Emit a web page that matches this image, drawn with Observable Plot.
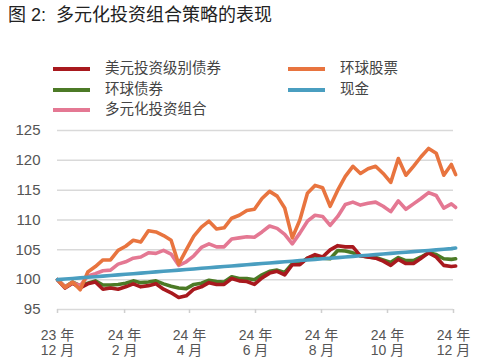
<!DOCTYPE html>
<html><head><meta charset="utf-8">
<script src="https://cdn.jsdelivr.net/npm/d3@7"></script>
<script src="https://cdn.jsdelivr.net/npm/@observablehq/plot@0.6"></script>
<style>
body{margin:0;background:#fff;font-family:"Liberation Sans","Noto Sans CJK SC",sans-serif;}
#wrap{position:relative;width:485px;height:361px;overflow:hidden}
#chart{position:absolute;left:0;top:0}
#title{position:absolute;left:8px;top:4px;font-size:18px;color:#222;white-space:pre;line-height:22px}
.leg{position:absolute;font-size:14.5px;color:#444;line-height:16px;white-space:nowrap}
.sw{position:absolute;height:4px;width:37px}
</style></head><body>
<div id="wrap"><div id="chart"></div><div id="title">图 2:  多元化投资组合策略的表现</div><div id="legend"></div></div>
<script>
const titleText = "图 2:  多元化投资组合策略的表现";
const seriesNames = ["美元投资级别债券", "环球股票", "环球债券", "现金", "多元化投资组合"];
const seriesColors = ["#a8191e", "#e8743f", "#4c7a26", "#4a9ec0", "#e47893"];
const drawOrder = ["环球债券", "美元投资级别债券", "多元化投资组合", "环球股票", "现金"];

const dates = ["2023-12-01","2023-12-08","2023-12-15","2023-12-22","2023-12-29",
"2024-01-05","2024-01-12","2024-01-19","2024-01-26",
"2024-02-02","2024-02-09","2024-02-16","2024-02-23",
"2024-03-01","2024-03-08","2024-03-15","2024-03-22","2024-03-29",
"2024-04-05","2024-04-12","2024-04-19","2024-04-26",
"2024-05-03","2024-05-10","2024-05-17","2024-05-24","2024-05-31",
"2024-06-07","2024-06-14","2024-06-21","2024-06-28",
"2024-07-05","2024-07-12","2024-07-19","2024-07-26",
"2024-08-02","2024-08-09","2024-08-16","2024-08-23","2024-08-30",
"2024-09-06","2024-09-13","2024-09-20","2024-09-27",
"2024-10-04","2024-10-11","2024-10-18","2024-10-25",
"2024-11-01","2024-11-08","2024-11-15","2024-11-22","2024-11-29","2024-12-03"];

const usdIG = [100,98.6,99.4,98.6,99.3,99.6,98.4,98.6,98.4,98.8,99.3,98.8,99.0,99.3,98.4,97.8,97.0,97.3,98.4,98.8,99.5,99.2,99.2,100.2,99.8,99.7,99.2,100.3,101.1,101.4,100.8,102.5,102.5,103.6,104.2,103.8,105.0,105.7,105.5,105.5,104.0,103.8,103.6,103.1,102.4,103.4,102.7,102.7,103.6,104.5,103.8,102.4,102.2,102.3];
const globalEq = [100,98.7,99.6,98.3,101.3,102.2,103.3,103.3,104.9,105.6,106.6,106.3,108.2,108.0,107.4,106.6,102.6,105.0,107.3,108.8,109.8,108.5,108.7,110.3,110.8,111.6,111.8,113.6,114.8,114.0,112.0,107.0,110.0,114.5,115.8,115.4,112.3,115.0,117.3,119.0,117.8,118.6,119.0,117.8,116.3,120.3,117.5,119.0,120.6,122.0,121.2,117.5,119.3,117.6];
const globalBond = [100,98.8,99.6,99.0,99.4,99.8,99.1,99.1,99.2,99.4,99.8,99.5,99.6,99.8,99.3,98.9,98.6,98.5,99.2,99.4,99.9,99.7,99.6,100.5,100.2,100.2,100.0,100.8,101.4,101.6,101.2,102.7,102.7,103.6,104.0,103.6,103.5,104.9,104.8,104.5,104.0,103.8,103.7,103.3,102.9,103.7,103.2,103.2,103.8,104.5,104.2,103.5,103.4,103.5];
const cash = [100.0,100.1,100.2,100.3,100.4,100.5,100.6,100.7,100.8,100.9,101.0,101.1,101.2,101.3,101.4,101.5,101.6,101.7,101.8,101.9,102.0,102.1,102.2,102.3,102.4,102.5,102.6,102.7,102.8,102.9,103.0,103.1,103.2,103.3,103.4,103.5,103.6,103.7,103.8,103.9,104.0,104.1,104.2,104.3,104.4,104.5,104.6,104.7,104.8,104.9,105.0,105.1,105.2,105.3];
const multiAsset = [100,98.8,99.5,99.0,100.6,101.0,101.5,101.6,102.6,103.0,103.6,103.8,104.5,104.4,104.9,104.3,102.4,103.0,104.0,105.4,106.0,105.5,105.5,106.8,107.0,107.2,107.1,108.0,109.0,108.6,107.6,106.0,107.8,109.8,110.8,110.6,109.1,110.6,112.6,113.0,112.5,112.8,113.0,112.3,111.4,113.2,111.8,112.7,113.6,114.6,114.1,112.0,112.7,112.1];

const yTicks = [95, 100, 105, 110, 115, 120, 125];
const xTickDates = ["2023-12-01","2024-02-01","2024-04-01","2024-06-01","2024-08-01","2024-10-01","2024-12-01"];
const xTickLabels = ["23 年\n12 月","24 年\n2 月","24 年\n4 月","24 年\n6 月","24 年\n8 月","24 年\n10 月","24 年\n12 月"];
const xDomain = ["2023-12-01", "2024-12-01"];

const valuesBySeries = {
  "美元投资级别债券": usdIG,
  "环球股票": globalEq,
  "环球债券": globalBond,
  "现金": cash,
  "多元化投资组合": multiAsset
};
const parse = d3.utcParse("%Y-%m-%d");
const rows = [];
for (const s of drawOrder) {
  valuesBySeries[s].forEach((v, i) => rows.push({series: s, date: parse(dates[i]), value: v}));
}

const chart = Plot.plot({
  width: 485,
  height: 361,
  marginTop: 130,
  marginBottom: 52,
  marginLeft: 57,
  marginRight: 32,
  style: {fontFamily: '"Liberation Sans","Noto Sans CJK SC",sans-serif', fontSize: "14px", color: "#555", background: "#fff"},
  x: {type: "utc", domain: xDomain.map(parse), label: null},
  y: {domain: [95, 125], label: null},
  color: {domain: seriesNames, range: seriesColors},
  marks: [
    Plot.ruleY(yTicks, {stroke: "#d9d9d9", strokeWidth: 1.5}),
    Plot.axisY({ticks: yTicks, tickSize: 0, tickPadding: 17, fill: "#555", fontSize: 15, label: null}),
    Plot.axisX({ticks: xTickDates.map(parse), tickFormat: (d, i) => xTickLabels[i], tickSize: 4, tickPadding: 16, stroke: "#cfcfcf", strokeWidth: 1.5, fill: "#555", fontSize: 14, lineHeight: 1.05, label: null}),
    Plot.line(rows, {x: "date", y: "value", z: "series", stroke: "series", strokeWidth: 3.6, strokeLinejoin: "round", strokeLinecap: "round", sort: null})
  ]
});
document.getElementById("chart").appendChild(chart);

// legend
const legend = document.getElementById("legend");
const colX = [53, 288], rowY = [69, 90, 110];
seriesNames.forEach((name, i) => {
  const c = i % 2, r = Math.floor(i / 2);
  const sw = document.createElement("div");
  sw.className = "sw";
  sw.style.left = colX[c] + "px";
  sw.style.top = (rowY[r] - 2) + "px";
  sw.style.background = seriesColors[i];
  legend.appendChild(sw);
  const t = document.createElement("div");
  t.className = "leg";
  t.textContent = name;
  t.style.left = (colX[c] + 52) + "px";
  t.style.top = (rowY[r] - 9) + "px";
  legend.appendChild(t);
});
document.getElementById("title").textContent = titleText;
</script>
</body></html>
